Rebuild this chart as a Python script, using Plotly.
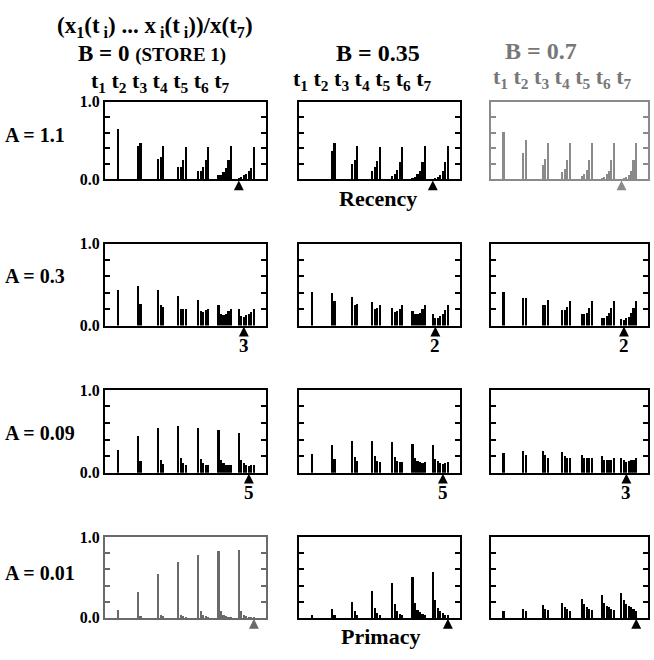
import plotly.graph_objects as go
from plotly.subplots import make_subplots

W, H = 654, 660

# ---------------- data ----------------
row_labels = ["A = 1.1", "A = 0.3", "A = 0.09", "A = 0.01"]
col_labels = ["B = 0", "B = 0.35", "B = 0.7"]
group_labels = ["t<sub>1</sub>", "t<sub>2</sub>", "t<sub>3</sub>", "t<sub>4</sub>",
                "t<sub>5</sub>", "t<sub>6</sub>", "t<sub>7</sub>"]

# each panel: 7 groups, group i holds x_1(t_i) ... x_i(t_i) / x(t_7)
p_a11_b0 = [[0.66], [0.44, 0.47], [0.27, 0.29, 0.43], [0.17, 0.17, 0.26, 0.42],
            [0.11, 0.11, 0.16, 0.25, 0.42], [0.06, 0.06, 0.10, 0.15, 0.26, 0.43],
            [0.03, 0.04, 0.06, 0.08, 0.11, 0.15, 0.42]]
p_a11_b035 = [[0.0], [0.37, 0.47], [0.21, 0.25, 0.43], [0.11, 0.16, 0.24, 0.42],
              [0.05, 0.08, 0.13, 0.23, 0.42], [0.03, 0.04, 0.07, 0.12, 0.23, 0.43],
              [0.01, 0.02, 0.04, 0.06, 0.11, 0.23, 0.43]]
p_a11_b07 = [[0.62], [0.34, 0.51], [0.19, 0.27, 0.48], [0.10, 0.14, 0.25, 0.47],
             [0.05, 0.08, 0.13, 0.25, 0.47], [0.03, 0.04, 0.07, 0.12, 0.25, 0.47],
             [0.01, 0.02, 0.04, 0.06, 0.12, 0.25, 0.47]]
p_a03_b0 = [[0.44], [0.49, 0.27], [0.44, 0.25, 0.23], [0.37, 0.21, 0.20, 0.21],
            [0.31, 0.18, 0.17, 0.19, 0.21], [0.26, 0.14, 0.13, 0.15, 0.18, 0.21],
            [0.21, 0.12, 0.11, 0.13, 0.14, 0.17, 0.21]]
p_a03_b035 = [[0.41], [0.40, 0.30], [0.35, 0.26, 0.27], [0.29, 0.21, 0.22, 0.26],
              [0.22, 0.17, 0.18, 0.21, 0.25], [0.18, 0.14, 0.14, 0.16, 0.20, 0.25],
              [0.14, 0.09, 0.10, 0.12, 0.14, 0.19, 0.25]]
p_a03_b07 = [[0.41], [0.34, 0.34], [0.26, 0.26, 0.31], [0.19, 0.19, 0.23, 0.30],
             [0.14, 0.14, 0.16, 0.22, 0.30], [0.10, 0.10, 0.12, 0.16, 0.22, 0.30],
             [0.08, 0.07, 0.09, 0.11, 0.16, 0.22, 0.30]]
p_a009_b0 = [[0.27], [0.44, 0.14], [0.54, 0.16, 0.11], [0.56, 0.18, 0.12, 0.10],
             [0.54, 0.17, 0.12, 0.10, 0.09], [0.52, 0.16, 0.12, 0.09, 0.09, 0.09],
             [0.48, 0.15, 0.12, 0.10, 0.08, 0.09, 0.10]]
p_a009_b035 = [[0.23], [0.33, 0.17], [0.38, 0.19, 0.14], [0.39, 0.20, 0.14, 0.13],
               [0.37, 0.19, 0.14, 0.13, 0.13], [0.35, 0.18, 0.14, 0.13, 0.12, 0.13],
               [0.33, 0.17, 0.14, 0.12, 0.11, 0.12, 0.13]]
p_a009_b07 = [[0.24], [0.26, 0.21], [0.26, 0.22, 0.18], [0.25, 0.20, 0.18, 0.18],
              [0.22, 0.18, 0.18, 0.18, 0.18], [0.20, 0.16, 0.16, 0.16, 0.16, 0.18],
              [0.18, 0.15, 0.135, 0.14, 0.15, 0.16, 0.18]]
p_a001_b0 = [[0.10], [0.32, 0.02], [0.54, 0.03, 0.02], [0.69, 0.04, 0.02, 0.01],
             [0.78, 0.08, 0.03, 0.02, 0.01], [0.83, 0.09, 0.04, 0.02, 0.01, 0.01],
             [0.84, 0.09, 0.04, 0.02, 0.01, 0.01, 0.005]]
p_a001_b035 = [[0.04], [0.11, 0.03], [0.20, 0.08, 0.03], [0.33, 0.12, 0.06, 0.03],
               [0.43, 0.17, 0.08, 0.05, 0.03], [0.51, 0.19, 0.10, 0.07, 0.05, 0.03],
               [0.57, 0.22, 0.12, 0.08, 0.06, 0.04, 0.03]]
p_a001_b07 = [[0.08], [0.11, 0.09], [0.16, 0.11, 0.10], [0.19, 0.14, 0.11, 0.09],
              [0.23, 0.17, 0.14, 0.11, 0.10], [0.28, 0.19, 0.15, 0.13, 0.11, 0.10],
              [0.31, 0.22, 0.17, 0.15, 0.13, 0.11, 0.09]]

panels = [[p_a11_b0, p_a11_b035, p_a11_b07],
          [p_a03_b0, p_a03_b035, p_a03_b07],
          [p_a009_b0, p_a009_b035, p_a009_b07],
          [p_a001_b0, p_a001_b035, p_a001_b07]]

# serial position (in t_7 group) marked by the arrow, and its label
arrow_pos = [[1, 1, 1], [3, 2, 2], [5, 5, 3], [7, 7, 7]]
arrow_text = [["", "", ""], ["3", "2", "2"], ["5", "5", "3"], ["", "", ""]]

y_ticks = [0.0, 0.2, 0.4, 0.6, 0.8, 1.0]
y_ticktext = ["0.0", "", "", "", "", "1.0"]

# ---------------- layout geometry (pixels) ----------------
col_px = [(105, 266), (299, 460), (491, 648)]
row_px = [(96, 176), (242, 326), (392, 477), (543, 626)]
SP = 0.125   # spacing of bars inside a group (group spacing = 1)
BW = 0.08

panel_color = [["black", "black", "#8a8a8a"],
               ["black", "black", "black"],
               ["black", "black", "black"],
               ["#6a6a6a", "black", "black"]]

SERIF = "Liberation Serif"


def px(x):
    return x / W


def py(y):
    return 1 - y / H


fig = make_subplots(rows=4, cols=3)

annotations = []
for r in range(4):
    for c in range(3):
        data = panels[r][c]
        xs, ys = [], []
        for g, grp in enumerate(data):
            for j, v in enumerate(grp):
                xs.append(g + j * SP)
                ys.append(v)
        col = panel_color[r][c]
        fig.add_trace(go.Bar(x=xs, y=ys, width=BW, marker_color=col,
                             marker_line_width=0, showlegend=False,
                             hoverinfo="skip"), row=r + 1, col=c + 1)
        idx = r * 3 + c + 1
        xa = "xaxis" if idx == 1 else f"xaxis{idx}"
        ya = "yaxis" if idx == 1 else f"yaxis{idx}"
        x0, x1 = col_px[c]
        y0, y1 = row_px[r]
        lw = 2 if c < 2 else 1.6
        fig.layout[xa].update(domain=[px(x0), px(x1)], range=[-0.65, 7.35],
                              showline=True, linecolor=col, linewidth=lw,
                              mirror=True, ticks="", showticklabels=False,
                              showgrid=False, zeroline=False)
        fig.layout[ya].update(domain=[py(y1), py(y0)], range=[0, 1],
                              showline=True, linecolor=col, linewidth=lw,
                              mirror="ticks", ticks="inside", ticklen=5,
                              tickwidth=1.5, tickcolor=col,
                              tickvals=y_ticks,
                              ticktext=y_ticktext if c == 0 else [""] * 6,
                              showticklabels=(c == 0),
                              tickfont=dict(family=SERIF, size=16, color="black", weight="bold"),
                              showgrid=False, zeroline=False)
        # arrow marking the minimum of the last serial-position curve
        k = arrow_pos[r][c]
        xref = "x" if idx == 1 else f"x{idx}"
        yref = "y" if idx == 1 else f"y{idx}"
        xk = 6 + (k - 1) * SP
        annotations.append(dict(
            x=xk, y=0, xref=xref, yref=yref, text="",
            showarrow=True, ax=0, ay=9,
            arrowhead=2, arrowsize=1.1, arrowwidth=1.8, arrowcolor=col,
            standoff=1, font=dict(size=1)))
        if arrow_text[r][c]:
            annotations.append(dict(
                x=xk, y=0, xref=xref, yref=yref,
                text=f"<b>{arrow_text[r][c]}</b>", showarrow=False,
                yanchor="middle", xanchor="center", yshift=-20,
                font=dict(family=SERIF, size=19, color="black")))

# ---------------- text ----------------
def txt(s, x, y, size, anchor="left", color="black"):
    annotations.append(dict(text=s, x=px(x), y=py(y), xref="paper", yref="paper",
                            xanchor=anchor, yanchor="middle", showarrow=False,
                            font=dict(family=SERIF, size=size, color=color)))


txt("<b>(x<sub>1</sub>(t<sub> i</sub>) ... x<sub> i</sub>(t<sub> i</sub>))/x(t<sub>7</sub>)</b>",
    55, 19, 23)
txt("<b>" + col_labels[0] + " <span style='font-size:19px'>(STORE 1)</span></b>", 76, 47, 23)
txt("<b>" + col_labels[1] + "</b>", 378, 46, 24, "center")
txt("<b>" + col_labels[2] + "</b>", 541, 44, 24, "center", "#777777")
tl = "<b>" + " ".join(group_labels) + "</b>"
txt(tl, 160, 76, 22, "center")
txt(tl, 362, 74, 22, "center")
txt(tl, 562, 72, 22, "center", "#777777")

row_y = [130, 275, 436, 580]
for r in range(4):
    txt("<b>" + row_labels[r] + "</b>", 3, row_y[r], 20)

txt("<b>Recency</b>", 378, 196, 22, "center")
txt("<b>Primacy</b>", 381, 645, 22, "center")

fig.update_layout(width=W, height=H, margin=dict(l=0, r=0, t=0, b=0),
                  paper_bgcolor="white", plot_bgcolor="white",
                  bargap=0, annotations=annotations, showlegend=False)

fig.write_html("out.html")
